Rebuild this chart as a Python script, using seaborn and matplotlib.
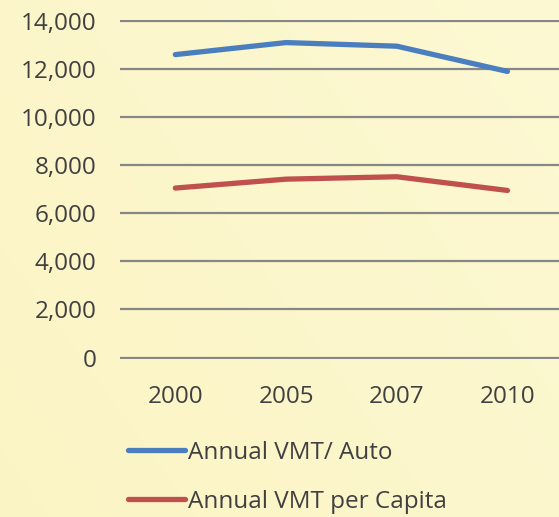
import numpy as np
import pandas as pd
import matplotlib
matplotlib.use("Agg")
import matplotlib.pyplot as plt
import seaborn as sns
from matplotlib.lines import Line2D

years = ["2000", "2005", "2007", "2010"]
vmt_auto = [12600, 13100, 12950, 11900]
vmt_capita = [7050, 7420, 7520, 6950]
series_names = ["Annual VMT/ Auto", "Annual VMT per Capita"]
colors = ["#4A7EBF", "#C0504D"]
yticks = [0, 2000, 4000, 6000, 8000, 10000, 12000, 14000]

sns.set_theme(style="white")
plt.rcParams["font.family"] = ["Open Sans", "DejaVu Sans"]
text_color = "#404040"

df = pd.DataFrame({
    "Year": years * 2,
    "Value": vmt_auto + vmt_capita,
    "Series": [series_names[0]] * 4 + [series_names[1]] * 4,
})

W, H = 559, 517
fig = plt.figure(figsize=(W / 100, H / 100), dpi=100)

# background gradient
bg = fig.add_axes([0, 0, 1, 1], zorder=-10)
gx = np.linspace(0, 1, 256)
gy = np.linspace(0, 1, 256)
X, Y = np.meshgrid(gx, gy)
c0 = np.array([0.984, 0.957, 0.770])
c1 = np.array([0.990, 0.975, 0.825])
t = np.clip(0.6 * X + 0.4 * Y, 0, 1)[..., None]
img = c0 * (1 - t) + c1 * t
bg.imshow(img, aspect="auto", extent=[0, 1, 0, 1], origin="lower")
bg.axis("off")

left = 120 / W
bottom = 1 - 359 / H
top = 1 - 19.5 / H
ax = fig.add_axes([left, bottom, 1 - left, top - bottom])
ax.patch.set_alpha(0)

sns.lineplot(data=df, x="Year", y="Value", hue="Series", palette=colors,
             linewidth=3.8, ax=ax, legend=False, sort=False,
             solid_capstyle="round")

px_per_cat = 110.7
ax.set_xlim(-0.5, -0.5 + (W - 120) / px_per_cat)
ax.set_ylim(-60, 14060)
ax.set_yticks(yticks)
ax.set_yticklabels([f"{v:,}" for v in yticks])
ax.yaxis.grid(True, color="#878787", linewidth=1.6)
ax.xaxis.grid(False)
for s in ax.spines.values():
    s.set_visible(False)
ax.tick_params(axis="both", length=0, labelsize=17.5, colors=text_color)
ax.tick_params(axis="y", pad=17)
ax.tick_params(axis="x", pad=19)
ax.set_xlabel("")
ax.set_ylabel("")

handles = [Line2D([0], [0], color=c, lw=3.8, solid_capstyle="round") for c in colors]
leg = fig.legend(handles, series_names, loc="upper left",
                 bbox_to_anchor=(106 / W, 1 - 419 / H), frameon=False,
                 fontsize=17.5, handlelength=2.35, handletextpad=0.12,
                 labelspacing=1.02)
for txt in leg.get_texts():
    txt.set_color(text_color)

fig.savefig("out.png", dpi=100)
